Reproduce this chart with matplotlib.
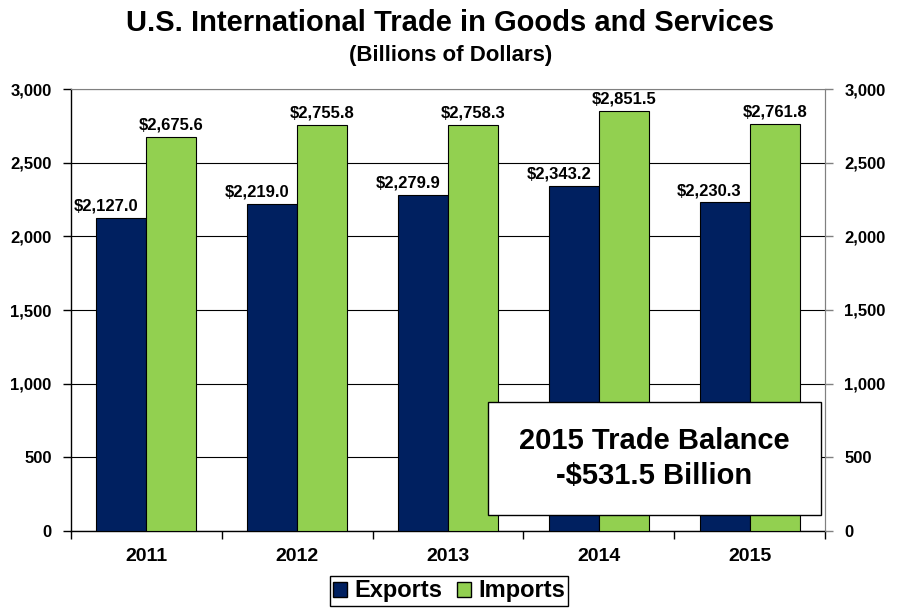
import numpy as np
import matplotlib.pyplot as plt
from matplotlib.patches import Patch, Rectangle

# dados
years = ['2011', '2012', '2013', '2014', '2015']
exports = [2127.0, 2219.0, 2279.9, 2343.2, 2230.3]
imports = [2675.6, 2755.8, 2758.3, 2851.5, 2761.8]
yticks = [0, 500, 1000, 1500, 2000, 2500, 3000]

navy = '#002060'
green = '#92D050'

plt.rcParams['font.family'] = ['Liberation Sans', 'DejaVu Sans']
plt.rcParams['font.weight'] = 'bold'

fig = plt.figure(figsize=(9.01, 6.13), dpi=100)
ax = fig.add_axes([71/901, 1 - 531/613, 754/901, 442/613])

x = np.arange(len(years))
w = 0.332
ax.bar(x - w/2, exports, w, color=navy, edgecolor='black', linewidth=0.8, zorder=3)
ax.bar(x + w/2, imports, w, color=green, edgecolor='black', linewidth=0.8, zorder=3)

# rótulos
for xi, v in zip(x, exports):
    ax.text(xi - w/2 - 0.1, v + 28, '${:,.1f}'.format(v), ha='center', va='bottom',
            fontsize=12, fontweight='bold', zorder=4)
for xi, v in zip(x, imports):
    ax.text(xi + w/2, v + 28, '${:,.1f}'.format(v), ha='center', va='bottom',
            fontsize=12, fontweight='bold', zorder=4)

ax.set_xlim(-0.5, 4.5)
ax.set_ylim(0, 3000)
ax.set_yticks(yticks)
ax.set_yticklabels(['{:,}'.format(t) for t in yticks], fontsize=12, fontweight='bold')
ax.yaxis.grid(True, color='black', linewidth=0.8, zorder=0)
ax.set_xticks(x)
ax.set_xticklabels(years, fontsize=14, fontweight='bold')
ax.set_xticks(np.arange(-0.5, 5, 1), minor=True)
ax.tick_params(axis='x', which='major', length=0, pad=12)
ax.tick_params(axis='x', which='minor', length=6, direction='out', width=1)
ax.tick_params(axis='y', length=6, direction='out', width=1, pad=8)
ax.spines['top'].set_color('#808080')
ax.spines['right'].set_color('#808080')
ax.spines['left'].set_linewidth(1)
ax.spines['bottom'].set_linewidth(1)

ax2 = ax.twinx()
ax2.set_ylim(0, 3000)
ax2.set_yticks(yticks)
ax2.set_yticklabels(['{:,}'.format(t) for t in yticks], fontsize=12, fontweight='bold')
ax2.tick_params(axis='y', length=6, direction='out', color='#808080', width=1, pad=8)
for s in ['top', 'left', 'bottom']:
    ax2.spines[s].set_visible(False)
ax2.spines['right'].set_color('#808080')

# caixa de texto
box = Rectangle((0.553, 0.036), 0.4416, 0.2557, transform=ax.transAxes, facecolor='white',
                edgecolor='black', linewidth=1, zorder=10)
ax2.add_patch(box)
ax2.text(0.553 + 0.4416/2, 0.036 + 0.2557/2, '2015 Trade Balance\n-$531.5 Billion',
         transform=ax.transAxes, ha='center', va='center', fontsize=21, fontweight='bold',
         linespacing=1.3, zorder=11)

fig.text(0.5, 1 - 23/613, 'U.S. International Trade in Goods and Services', ha='center',
         va='center', fontsize=21, fontweight='bold')
fig.text(0.5, 1 - 56/613, '(Billions of Dollars)', ha='center', va='center',
         fontsize=16, fontweight='bold')

handles = [Patch(facecolor=navy, edgecolor='black'), Patch(facecolor=green, edgecolor='black')]
leg = fig.legend(handles, ['Exports', 'Imports'], loc='center', bbox_to_anchor=(449/901, 1 - 591/613),
                 ncol=2, fancybox=False, edgecolor='black', framealpha=1,
                 prop={'size': 17, 'weight': 'bold'}, handlelength=0.6, handleheight=0.6,
                 handletextpad=0.3, columnspacing=0.6, borderpad=0.15)
leg.get_frame().set_linewidth(1)

fig.savefig('out.png', dpi=100)
